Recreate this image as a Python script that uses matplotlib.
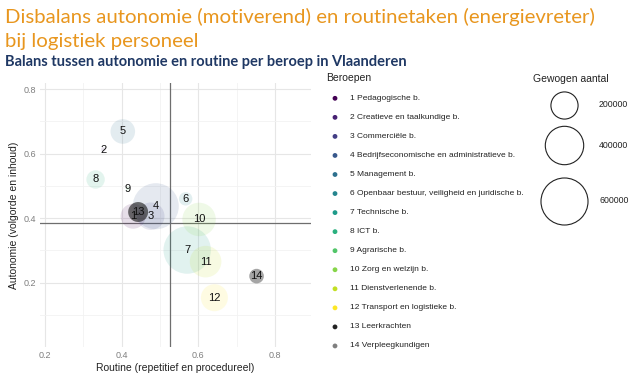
import matplotlib
matplotlib.use("Agg")
import matplotlib.pyplot as plt
import numpy as np

# ---- data ----
ids = list(range(1, 15))
beroepen = ["1 Pedagogische b.", "2 Creatieve en taalkundige b.", "3 Commerciële b.",
            "4 Bedrijfseconomische en administratieve b.", "5 Management b.",
            "6 Openbaar bestuur, veiligheid en juridische b.", "7 Technische b.",
            "8 ICT b.", "9 Agrarische b.", "10 Zorg en welzijn b.", "11 Dienstverlenende b.",
            "12 Transport en logistieke b.", "13 Leerkrachten", "14 Verpleegkundigen"]
routine = [0.430, 0.352, 0.476, 0.489, 0.403, 0.567, 0.571, 0.332, 0.416, 0.602, 0.619, 0.642, 0.443, 0.752]
autonomie = [0.406, 0.613, 0.406, 0.437, 0.669, 0.460, 0.301, 0.520, 0.492, 0.396, 0.265, 0.153, 0.419, 0.220]
aantal = [170000, 5000, 204000, 575000, 164000, 49000, 610000, 92000, 5000, 303000, 271000, 198000, 108000, 58000]
mean_routine = 0.526
mean_autonomie = 0.3836
size_breaks = [200000, 400000, 600000]
size_labels = ["200000", "400000", "600000"]
xticks = [0.2, 0.4, 0.6, 0.8]
yticks = [0.2, 0.4, 0.6, 0.8]

title_lines = ["Disbalans autonomie (motiverend) en routinetaken (energievreter)",
               "bij logistiek personeel"]
subtitle = "Balans tussen autonomie en routine per beroep in Vlaanderen"

# ---- styling ----
W, H, DPI = 631, 373, 100
vir = plt.get_cmap("viridis")
colors = [vir(i / 11) for i in range(12)] + ["#222222", "#7f7f7f"]
alphas = [0.13] * 12 + [0.65, 0.7]

def size_of(v):
    # bubble area proportional to value; radius px = 9.6*sqrt(v/1e5)
    r_px = 9.6 * np.sqrt(np.asarray(v, float) / 1e5)
    return (2 * r_px * 72 / DPI) ** 2

fig = plt.figure(figsize=(W / DPI, H / DPI), dpi=DPI)
fig.patch.set_facecolor("white")

ax = fig.add_axes([40 / W, 1 - 347 / H, (311 - 40) / W, (347 - 83) / H])
ax.set_xlim(0.187, 0.894)
ax.set_ylim(0.0, 0.8195)
for s in ax.spines.values():
    s.set_visible(False)
ax.set_xticks(xticks)
ax.set_yticks(yticks)
ax.set_xticks([0.3, 0.5, 0.7], minor=True)
ax.set_yticks([0.1, 0.3, 0.5, 0.7], minor=True)
ax.grid(True, which="major", color="#e6e6e6", lw=0.8)
ax.grid(True, which="minor", color="#f2f2f2", lw=0.6)
ax.set_axisbelow(True)
ax.tick_params(which="both", length=0, labelsize=6.5, labelcolor="#7f7f7f", pad=3)
ax.set_xticklabels([f"{t:.1f}" for t in xticks], family="Liberation Sans")
ax.set_yticklabels([f"{t:.1f}" for t in yticks], family="Liberation Sans")
ax.set_xlabel("Routine (repetitief en procedureel)", fontsize=7.5, family="Liberation Sans", color="#222222", labelpad=2)
ax.set_ylabel("Autonomie (volgorde en inhoud)", fontsize=7.5, family="Liberation Sans", color="#222222", labelpad=3)

ax.axvline(mean_routine, color="#6e6e6e", lw=0.9, zorder=1)
ax.axhline(mean_autonomie, color="#6e6e6e", lw=0.9, zorder=1)

for i in range(14):
    ax.scatter(routine[i], autonomie[i], s=size_of(aantal[i]), color=colors[i],
               alpha=alphas[i], edgecolors="none", zorder=2)
for i in range(14):
    ax.text(routine[i], autonomie[i], str(ids[i]), ha="center", va="center",
            fontsize=8, family="Liberation Sans", color="#111111", zorder=3)

# ---- titles ----
for line, yc in zip(title_lines, [17, 42]):
    fig.text(5 / W, 1 - yc / H, line, ha="left", va="center", fontsize=14.7, color="#E8961E",
             family="Lato")
fig.text(5 / W, 1 - 62 / H, subtitle, ha="left", va="center", fontsize=10.5,
         color="#1F3864", family="Lato", weight="bold")

# ---- legends (overlay in pixel coordinates) ----
lg = fig.add_axes([0, 0, 1, 1], facecolor="none")
lg.set_xlim(0, W)
lg.set_ylim(H, 0)
lg.axis("off")
lg.text(326, 78, "Beroepen", fontsize=7.5, family="Liberation Sans", va="center", color="#222222")
y0, dy = 98.3, 19.05
for i in range(14):
    y = y0 + i * dy
    lg.scatter(335, y, s=12, color=colors[i], edgecolors="none")
    lg.text(350, y, beroepen[i], fontsize=6.0, family="Liberation Sans", va="center", color="#222222")

lg.text(533, 79, "Gewogen aantal", fontsize=7.5, family="Liberation Sans", va="center", color="#222222")
ypos = [104.7, 145.3, 200.7]
for b, lab, y in zip(size_breaks, size_labels, ypos):
    lg.scatter(564, y, s=size_of(b), facecolors="white", edgecolors="#222222", linewidths=0.8)
    lg.text(599, y, lab, fontsize=6.3, family="Liberation Sans", va="center", color="#222222")

fig.savefig("out.png", dpi=DPI)
